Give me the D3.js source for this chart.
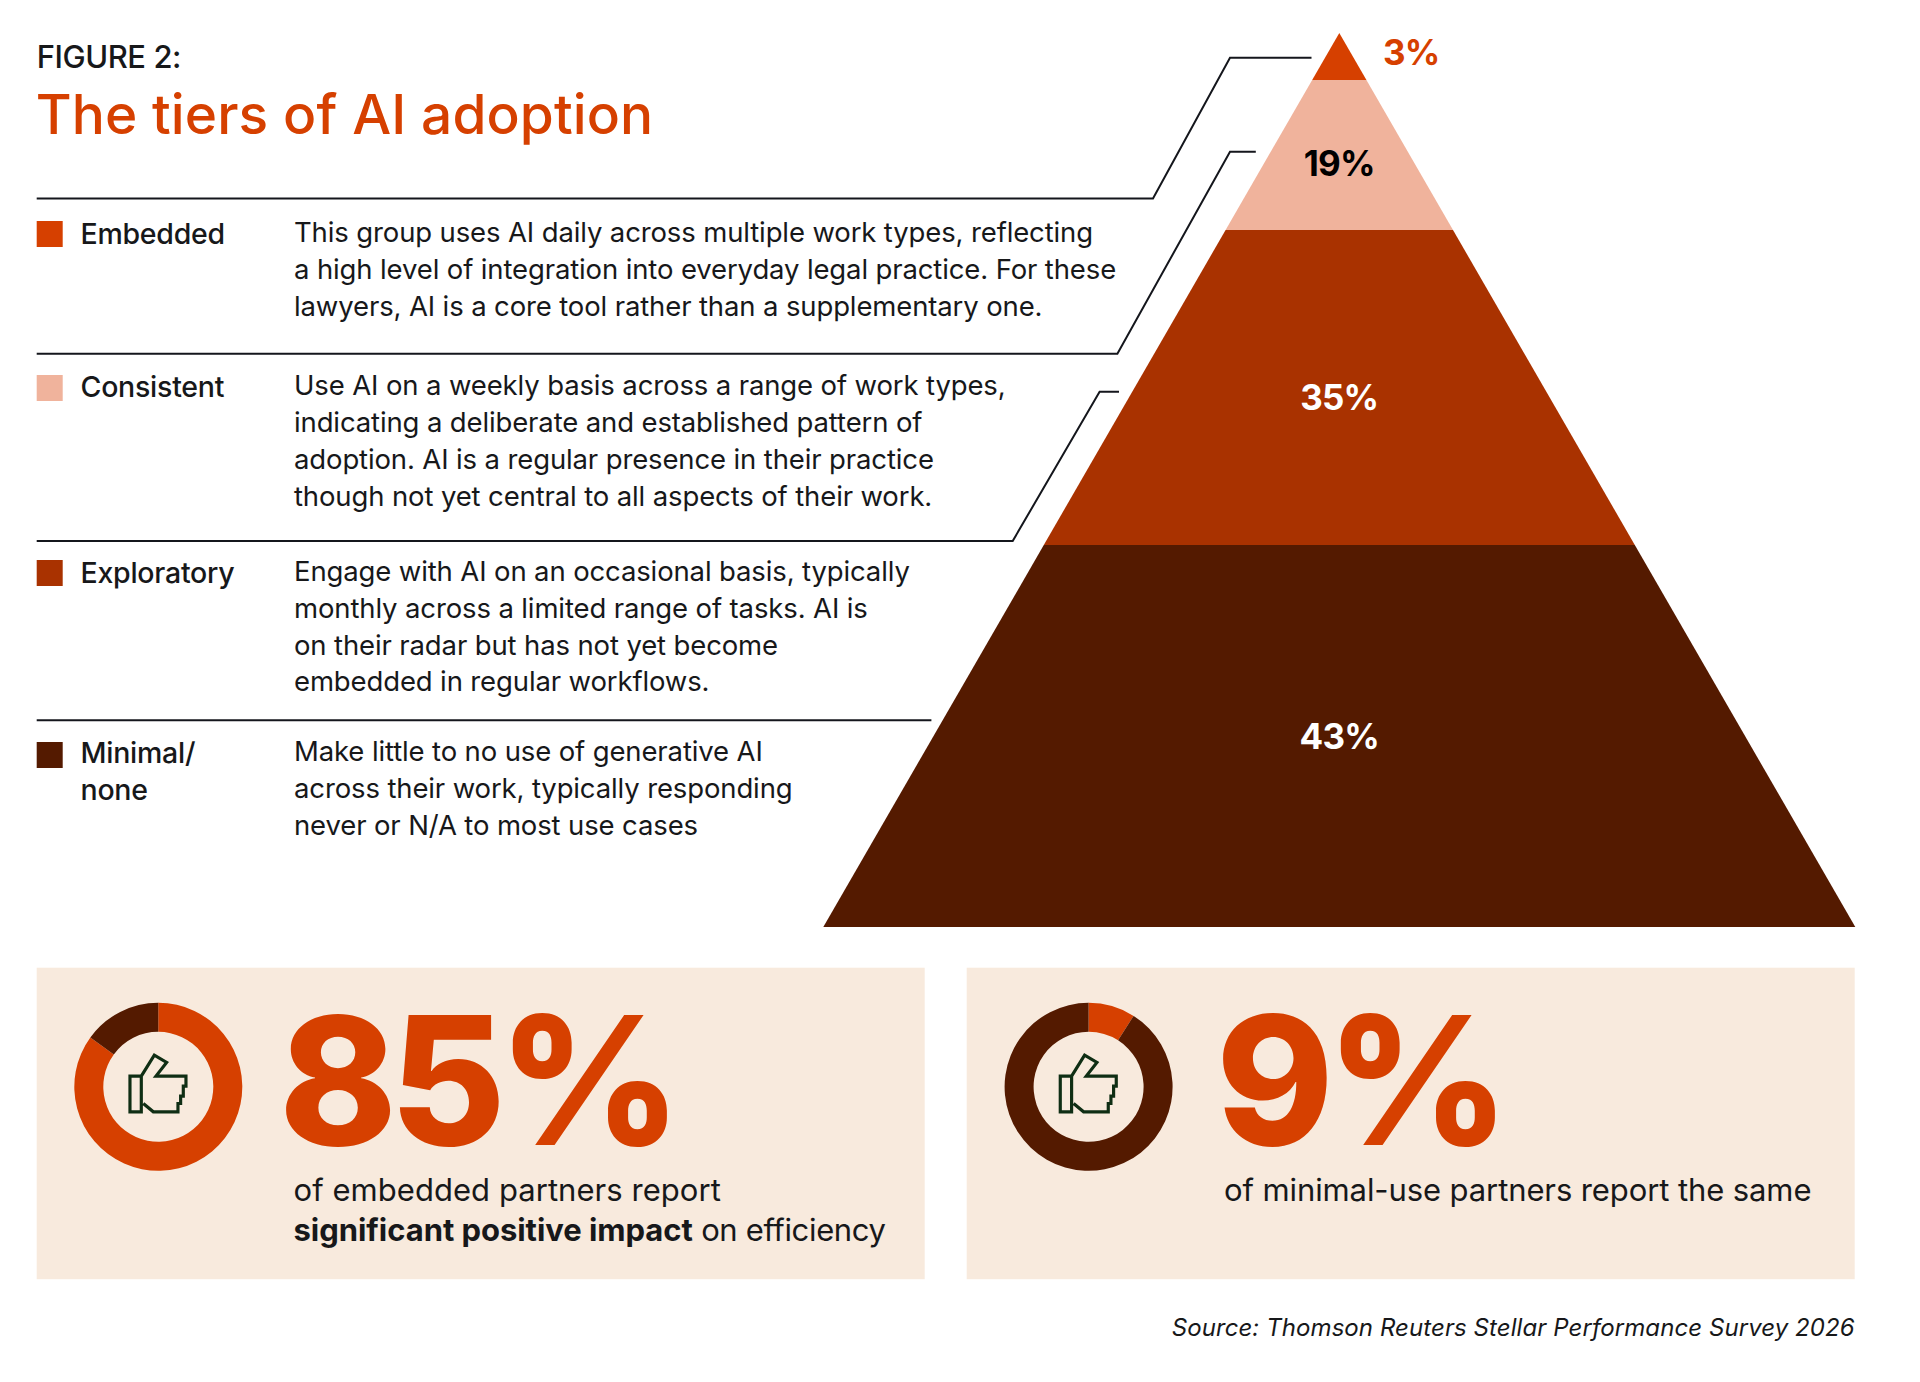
<!DOCTYPE html>
<html lang="en">
<head>
<meta charset="UTF-8">
<title>The tiers of AI adoption</title>
<script src="https://cdn.jsdelivr.net/npm/d3@7/dist/d3.min.js"></script>
<style>
  html, body { margin: 0; padding: 0; background: #fff; }
  svg { display: block; }
  text { font-family: Inter, "Noto Sans", sans-serif; fill: #17181a; }
</style>
</head>
<body>
<script>
// data
var tierNames = ["Embedded", "Consistent", "Exploratory", "Minimal/"];
var tierValues = [3, 19, 35, 43];
var tierLabels = ["3%", "19%", "35%", "43%"];
var tierDescriptions = [
  ["This group uses AI daily across multiple work types, reflecting",
   "a high level of integration into everyday legal practice. For these",
   "lawyers, AI is a core tool rather than a supplementary one."],
  ["Use AI on a weekly basis across a range of work types,",
   "indicating a deliberate and established pattern of",
   "adoption. AI is a regular presence in their practice",
   "though not yet central to all aspects of their work."],
  ["Engage with AI on an occasional basis, typically",
   "monthly across a limited range of tasks. AI is",
   "on their radar but has not yet become",
   "embedded in regular workflows."],
  ["Make little to no use of generative AI",
   "across their work, typically responding",
   "never or N/A to most use cases"]
];
var statValues = [85, 9];
var statLabels = ["85%", "9%"];

var width = 1920, height = 1382;
var orange = "#d64000", peach = "#f0b39c", rust = "#a93200", brown = "#541a00", cream = "#f8eadd";

var color = d3.scaleOrdinal().domain(tierNames).range([orange, peach, rust, brown]);

var svg = d3.select("body").append("svg")
  .attr("width", width)
  .attr("height", height);

// pyramid: the top tier is drawn taller than its share, as in the original
var cumul = d3.cumsum(tierValues);
var yPyr = d3.scaleLinear().domain([0, 3, 22, 57, 100]).range([33, 80, 230, 545, 927]);
var halfW = d3.scaleLinear().domain([33, 927]).range([0, 516]);
var cx = 1339.3;
var lineGen = d3.line();

svg.selectAll("path.tier")
  .data(tierValues)
  .enter()
  .append("path")
  .attr("class", "tier")
  .attr("fill", (d, i) => color(tierNames[i]))
  .attr("d", function(d, i) {
    var y0 = yPyr(cumul[i] - d), y1 = yPyr(cumul[i]);
    return lineGen([[cx - halfW(y0), y0], [cx + halfW(y0), y0], [cx + halfW(y1), y1], [cx - halfW(y1), y1]]) + "Z";
  });

var labelBase = [65, 175.5, 409.5, 749];
var labelFill = [orange, "#000", "#fff", "#fff"];
svg.selectAll("text.tierLabel")
  .data(tierLabels)
  .enter()
  .append("text")
  .attr("class", "tierLabel")
  .attr("x", (d, i) => i == 0 ? 1383 : cx)
  .attr("y", (d, i) => labelBase[i])
  .attr("text-anchor", (d, i) => i == 0 ? "start" : "middle")
  .attr("font-size", 35)
  .attr("font-weight", 700)
  .attr("letter-spacing", -0.8)
  .style("fill", (d, i) => labelFill[i])
  .text(d => d);

// rules and leader lines
var left = 36.7;
var leaders = [
  [[left, 198.5], [1153, 198.5], [1230, 57.7], [1311.5, 57.7]],
  [[left, 353.7], [1117.4, 353.7], [1230, 151.7], [1255.8, 151.7]],
  [[left, 541], [1012.7, 541], [1099.6, 391.7], [1119, 391.7]],
  [[left, 720.3], [931.4, 720.3]]
];
svg.selectAll("path.leader")
  .data(leaders)
  .enter()
  .append("path")
  .attr("class", "leader")
  .attr("fill", "none")
  .attr("stroke", "#14161c")
  .attr("stroke-width", 2)
  .attr("d", lineGen);

// heading
svg.append("text")
  .attr("x", left).attr("y", 68.3)
  .attr("font-size", 31).attr("font-weight", 500).attr("letter-spacing", -0.45)
  .text("FIGURE 2:");
svg.append("text")
  .attr("x", left - 1).attr("y", 134.3)
  .attr("font-size", 55).attr("font-weight", 500).attr("letter-spacing", 0.1)
  .style("fill", orange)
  .text("The tiers of AI adoption");

// legend rows
var swatchY = [221, 375, 560, 742];
var nameBase = [244, 397, 582.7, 763];
var descBase = [241.7, 395, 580.7, 761];
var leading = 36.9;

svg.selectAll("rect.swatch")
  .data(tierNames)
  .enter()
  .append("rect")
  .attr("class", "swatch")
  .attr("x", left)
  .attr("y", (d, i) => swatchY[i])
  .attr("width", 26)
  .attr("height", 26)
  .attr("fill", d => color(d));

svg.selectAll("text.name")
  .data(tierNames)
  .enter()
  .append("text")
  .attr("class", "name")
  .attr("x", 80.5)
  .attr("y", (d, i) => nameBase[i])
  .attr("font-size", 28.5)
  .attr("font-weight", 500)
  .attr("letter-spacing", -0.25)
  .text(d => d);
svg.append("text")
  .attr("x", 80.5).attr("y", 800)
  .attr("font-size", 28.5).attr("font-weight", 500).attr("letter-spacing", -0.25)
  .text("none");

tierDescriptions.forEach(function(lines, r) {
  svg.selectAll("text.desc" + r)
    .data(lines)
    .enter()
    .append("text")
    .attr("class", "desc" + r)
    .attr("x", 294)
    .attr("y", (d, i) => descBase[r] + i * leading)
    .attr("font-size", 27.5)
    .attr("letter-spacing", -0.13)
    .text(d => d);
});

// bottom panels
var panelX = [36.7, 966.7];
var donutX = [158.3, 1088.6];
var donutColors = [[orange, brown], [orange, brown]];
var numberX = [279, 1216];
var arc = d3.arc().innerRadius(55).outerRadius(84);
var pie = d3.pie().sort(null);

statValues.forEach(function(v, i) {
  svg.append("rect")
    .attr("x", panelX[i]).attr("y", 967.7)
    .attr("width", 888).attr("height", 311.5)
    .attr("fill", cream);

  var donut = svg.append("g").attr("transform", "translate(" + donutX[i] + ",1086.8)");
  donut.selectAll("path.slice")
    .data(pie([v, 100 - v]))
    .enter()
    .append("path")
    .attr("class", "slice")
    .attr("fill", (d, j) => donutColors[i][j])
    .attr("d", arc);

  // thumbs-up icon
  donut.append("path")
    .attr("transform", "scale(0.3333) translate(-175,-140)")
    .attr("fill", "none")
    .attr("stroke", "#0f2e14")
    .attr("stroke-width", 9.5)
    .attr("d", "M90 108H124V215H90Z M124 108L163 45L200 67L168 108H258V138H250V168H242V190H234V215H160L130 190");

  svg.append("text")
    .attr("x", numberX[i]).attr("y", 1145)
    .attr("font-size", 178).attr("font-weight", 800).attr("letter-spacing", -7.5)
    .style("fill", orange)
    .text(statLabels[i]);
});

// panel captions
svg.append("text")
  .attr("x", 293.5).attr("y", 1200.7)
  .attr("font-size", 31).attr("letter-spacing", 0.05)
  .text("of embedded partners report");
var cap = svg.append("text")
  .attr("x", 293.5).attr("y", 1240.7)
  .attr("font-size", 31);
cap.append("tspan").attr("font-weight", 700).attr("letter-spacing", -0.05).text("significant positive impact");
cap.append("tspan").attr("letter-spacing", -0.35).text(" on efficiency");
svg.append("text")
  .attr("x", 1224).attr("y", 1200.7)
  .attr("font-size", 31).attr("letter-spacing", -0.1)
  .text("of minimal-use partners report the same");

// source
svg.append("text")
  .attr("x", 1854.7).attr("y", 1336)
  .attr("text-anchor", "end")
  .attr("font-size", 24).attr("font-style", "italic").attr("letter-spacing", 0.08)
  .text("Source: Thomson Reuters Stellar Performance Survey 2026");
</script>
</body>
</html>
